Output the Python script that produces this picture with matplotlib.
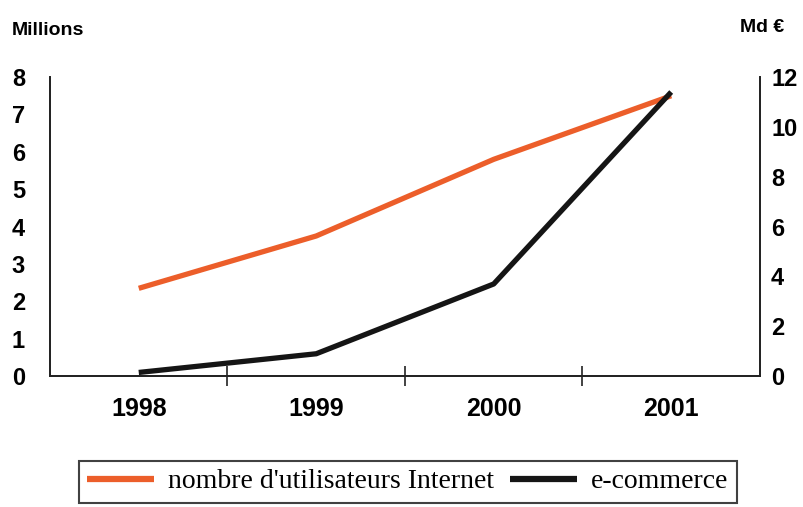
import matplotlib
matplotlib.use("Agg")
import matplotlib.pyplot as plt
from matplotlib.ticker import FixedLocator

years = ["1998", "1999", "2000", "2001"]
internet_users = [2.35, 3.75, 5.8, 7.5]     # Millions (left axis)
ecommerce = [0.15, 0.9, 3.7, 11.4]          # Md € (right axis)
left_ticks = [0, 1, 2, 3, 4, 5, 6, 7, 8]
right_ticks = [0, 2, 4, 6, 8, 10, 12]

fig = plt.figure(figsize=(8.04, 5.07), dpi=100)
ax = fig.add_axes([0.0622, 0.258, 0.883, 0.59])
ax2 = ax.twinx()

x = list(range(len(years)))
l1, = ax.plot(x, internet_users, color="#EC5E2A", lw=3.8, solid_capstyle="butt",
              label="nombre d'utilisateurs Internet")
l2, = ax2.plot(x, ecommerce, color="#151515", lw=3.8, solid_capstyle="butt",
               label="e-commerce")

ax.set_xlim(-0.5, 3.5)
ax.set_ylim(0, 8)
ax2.set_ylim(0, 12)

bold = dict(family="Liberation Sans", weight="bold")
ax.set_yticks(left_ticks)
ax.set_yticklabels([str(t) for t in left_ticks], fontsize=17, **bold)
ax2.set_yticks(right_ticks)
ax2.set_yticklabels([str(t) for t in right_ticks], fontsize=17, **bold)
ax.tick_params(axis="y", length=0, pad=18)
ax2.tick_params(axis="y", length=0, pad=8)

ax.set_xticks(x)
ax.set_xticklabels(years, fontsize=18, **bold)
ax.tick_params(axis="x", which="major", length=0, pad=15)
ax.xaxis.set_minor_locator(FixedLocator([0.5, 1.5, 2.5]))
ax.tick_params(axis="x", which="minor", length=14, width=1.2, direction="inout", color="#222222")

for a in (ax, ax2):
    a.spines["top"].set_visible(False)
    for s in ("left", "right", "bottom"):
        a.spines[s].set_linewidth(1.3)
        a.spines[s].set_color("#222222")

fig.text(0.014, 0.94, "Millions", fontsize=14, va="center", ha="left", **bold)
fig.text(0.975, 0.945, "Md €", fontsize=14, va="center", ha="right", **bold)

leg = fig.legend(handles=[l1, l2], loc="center", bbox_to_anchor=(0.507, 0.05), ncol=2,
                 frameon=True, fancybox=False, handlelength=2.4, handletextpad=0.5,
                 columnspacing=0.6, borderpad=0.3,
                 prop=dict(family="Liberation Serif", size=20))
leg.get_frame().set_edgecolor("#111111")
leg.get_frame().set_linewidth(1.5)
for h in leg.get_lines():
    h.set_linewidth(4.5)

fig.savefig("out.png", dpi=100)
